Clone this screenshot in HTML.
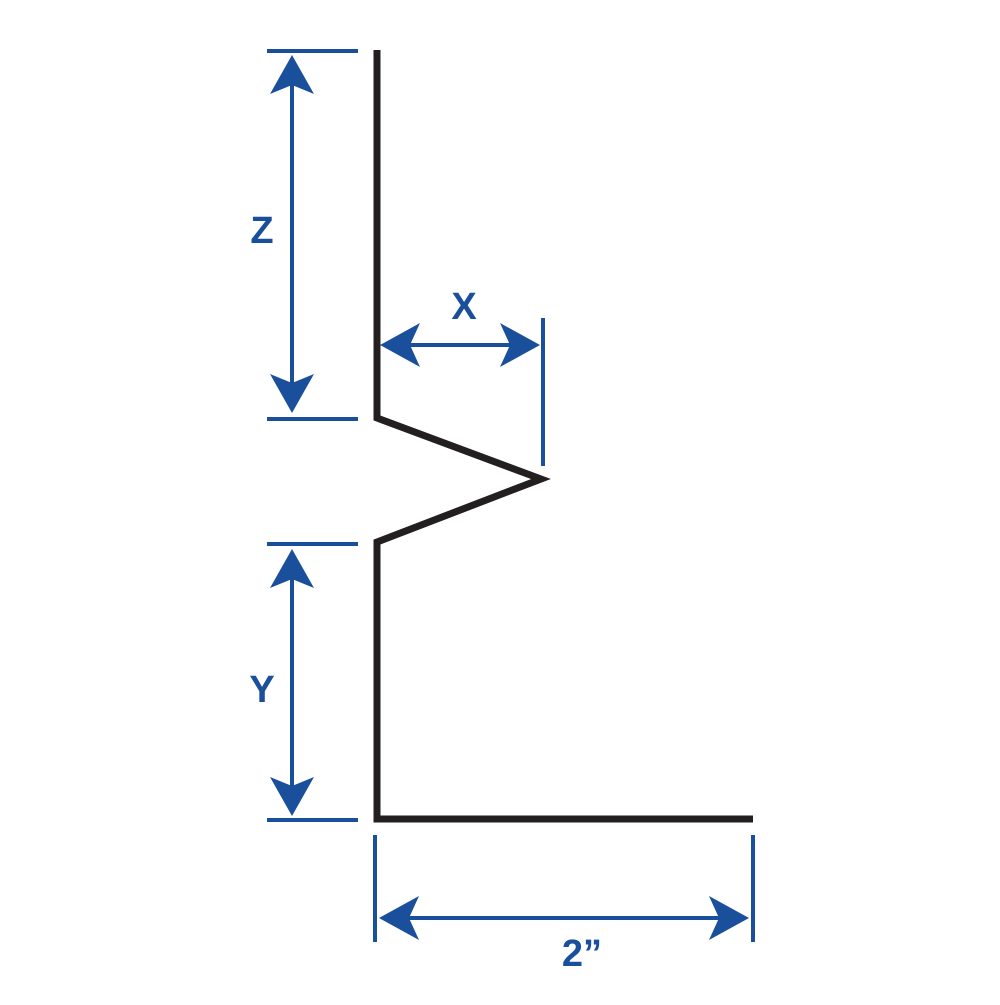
<!DOCTYPE html>
<html><head><style>body{margin:0;background:#fff}</style></head><body>
<svg width="1000" height="1000" viewBox="0 0 1000 1000" xmlns="http://www.w3.org/2000/svg">
<g stroke="#1a4f9c" stroke-width="4" fill="none">
<line x1="267" y1="51" x2="358" y2="51"/>
<line x1="267" y1="419" x2="358" y2="419"/>
<line x1="267" y1="544" x2="358" y2="544"/>
<line x1="267" y1="820" x2="358" y2="820"/>
<line x1="292" y1="80" x2="292" y2="390"/>
<line x1="292" y1="573" x2="292" y2="795"/>
<line x1="405" y1="345" x2="515" y2="345"/>
<line x1="543" y1="318" x2="543" y2="466"/>
<line x1="375" y1="835" x2="375" y2="942"/>
<line x1="753" y1="835" x2="753" y2="942"/>
<line x1="405" y1="918" x2="725" y2="918"/>
</g>
<g fill="#1a4f9c">
<path d="M292,55 L270,94 L292,85 L314,94 Z"/>
<path d="M292,413 L270,374 L292,383 L314,374 Z"/>
<path d="M292,549 L270,588 L292,579 L314,588 Z"/>
<path d="M292,816 L270,777 L292,786 L314,777 Z"/>
<path d="M380,345 L420,323 L410,345 L420,367 Z"/>
<path d="M540,345 L500,323 L510,345 L500,367 Z"/>
<path d="M379,918 L419,896 L409,918 L419,940 Z"/>
<path d="M749,918 L709,896 L719,918 L709,940 Z"/>
</g>
<g fill="#1a4f9c" font-family="Liberation Sans, sans-serif" font-weight="bold" font-size="38" text-anchor="middle">
<text x="262" y="243">Z</text>
<text x="262" y="702">Y</text>
<text x="464" y="319">X</text>
<text x="582" y="966">2”</text>
</g>
<path d="M377,50 V418 L541,479 L377,542 V819 H753" stroke="#231f20" stroke-width="7" fill="none" stroke-linejoin="miter"/>
</svg>
</body></html>
